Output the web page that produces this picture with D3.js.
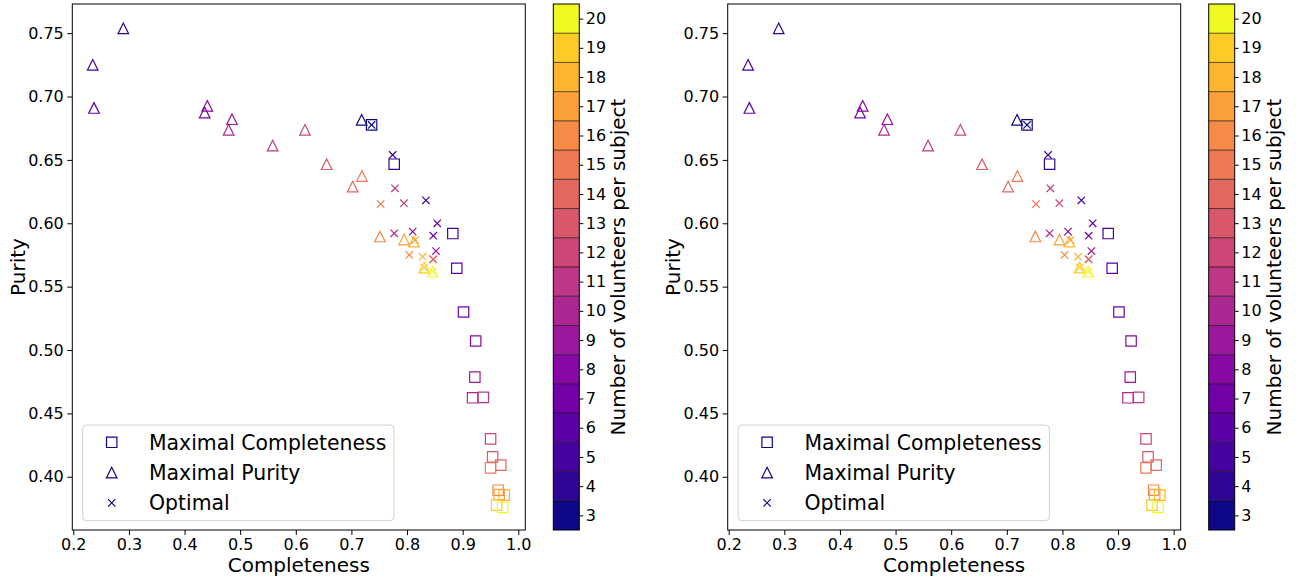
<!DOCTYPE html>
<html>
<head>
<meta charset="utf-8">
<script src="https://cdn.jsdelivr.net/npm/d3@7"></script>
<style>
  html, body { margin: 0; padding: 0; background: #fff; }
  svg { display: block; font-family: "DejaVu Sans", sans-serif; }
</style>
</head>
<body>
<svg id="chart" width="1301" height="578"></svg>
<script>
// ---------------- data ----------------
const volunteers = [3, 4, 5, 6, 7, 8, 9, 10, 11, 12, 13, 14, 15, 16, 17, 18, 19, 20];

// Maximal Completeness (squares)
const complMaxC = [0.7363, 0.7769, 0.8823, 0.8894, 0.9016, 0.9234, 0.9219, 0.9178, 0.9371, 0.9502, 0.9539, 0.9685, 0.9502, 0.9639, 0.9658, 0.9748, 0.9611, 0.9718];
const purMaxC   = [0.6776, 0.6466, 0.5919, 0.5645, 0.5300, 0.5071, 0.4786, 0.4623, 0.4626, 0.4299, 0.4157, 0.4092, 0.4070, 0.3894, 0.3860, 0.3855, 0.3776, 0.3758];

// Maximal Purity (triangles)
const complMaxP = [0.7184, 0.2899, 0.2349, 0.2372, 0.4362, 0.4409, 0.4853, 0.4793, 0.5584, 0.6165, 0.6555, 0.7023, 0.7190, 0.7513, 0.7948, 0.8125, 0.8309, 0.8460];
const purMaxP   = [0.6816, 0.7538, 0.7250, 0.6910, 0.6873, 0.6926, 0.6821, 0.6737, 0.6613, 0.6737, 0.6466, 0.6289, 0.6373, 0.5896, 0.5872, 0.5855, 0.5651, 0.5618];

// Optimal (x)
const complOpt = [0.7363, 0.7741, 0.8340, 0.8543, 0.8471, 0.8101, 0.8520, 0.7769, 0.7783, 0.7944, 0.8471, 0.8471, 0.7525, 0.8039, 0.8143, 0.8281, 0.8309, 0.8460];
const purOpt   = [0.6776, 0.6539, 0.6181, 0.6000, 0.5902, 0.5934, 0.5781, 0.5921, 0.6276, 0.6158, 0.5716, 0.5716, 0.6152, 0.5750, 0.5868, 0.5736, 0.5651, 0.5618];

const xTicks = [0.2, 0.3, 0.4, 0.5, 0.6, 0.7, 0.8, 0.9, 1.0];
const yTicks = [0.40, 0.45, 0.50, 0.55, 0.60, 0.65, 0.70, 0.75];
const cbTicks = volunteers;
const legendLabels = ["Maximal Completeness", "Maximal Purity", "Optimal"];

// ---------------- layout ----------------
const svg = d3.select("#chart");
const panelLefts = [72.3, 727.7];
const plotW = 453, plotTop = 4, plotBottom = 530;
const cbOffset = 481;   // colorbar left relative to plot left
const cbW = 26;

// discrete plasma lookup (19-colour table over 18 bins, like a boundary norm)
const nBins = volunteers.length, nLut = nBins + 1;
const color = v => {
  const i = v - volunteers[0];
  const idx = Math.floor(i * (nLut - 1) / (nBins - 1) + 1e-9);
  return d3.interpolatePlasma(idx / (nLut - 1));
};

const symSquare = d3.symbol().type({draw(ctx, s){ const h = 5.2; ctx.moveTo(-h,-h); ctx.lineTo(h,-h); ctx.lineTo(h,h); ctx.lineTo(-h,h); ctx.closePath(); }})();
const symTri = d3.symbol().type({draw(ctx, s){ const h = 5.3; ctx.moveTo(0,-h); ctx.lineTo(h,h); ctx.lineTo(-h,h); ctx.closePath(); }})();
const symX = d3.symbol().type({draw(ctx, s){ const h = 3.7; ctx.moveTo(-h,-h); ctx.lineTo(h,h); ctx.moveTo(-h,h); ctx.lineTo(h,-h); }})();
const shapes = [symSquare, symTri, symX];

function drawPanel(L) {
  const x = d3.scaleLinear().domain([0.1982, 1.0126]).range([L, L + plotW]);
  const y = d3.scaleLinear().domain([0.358, 0.773]).range([plotBottom, plotTop]);
  const g = svg.append("g");

  // axes
  const xAxis = g.append("g").attr("transform", `translate(0,${plotBottom})`)
    .call(d3.axisBottom(x).tickValues(xTicks).tickFormat(d3.format(".1f")).tickSize(5).tickPadding(3.5).tickSizeOuter(0));
  const yAxis = g.append("g").attr("transform", `translate(${L},0)`)
    .call(d3.axisLeft(y).tickValues(yTicks).tickFormat(d3.format(".2f")).tickSize(5).tickPadding(3.5).tickSizeOuter(0));
  [xAxis, yAxis].forEach(a => {
    a.select(".domain").remove();
    a.selectAll("text").attr("font-size", 16).attr("fill", "#000").attr("font-family", "DejaVu Sans");
    a.selectAll("line").attr("stroke", "#000").attr("stroke-width", 1);
  });

  // points
  const sets = [
    [complMaxC, purMaxC, symSquare],
    [complMaxP, purMaxP, symTri],
    [complOpt, purOpt, symX]
  ];
  sets.forEach(([cx, cy, sym]) => {
    g.append("g").selectAll("path").data(volunteers).join("path")
      .attr("d", sym)
      .attr("transform", (v, i) => `translate(${x(cx[i])},${y(cy[i])})`)
      .attr("fill", "none")
      .attr("stroke", v => color(v))
      .attr("stroke-width", 1.2);
  });

  // frame
  g.append("rect").attr("x", L).attr("y", plotTop).attr("width", plotW).attr("height", plotBottom - plotTop)
    .attr("fill", "none").attr("stroke", "#000").attr("stroke-width", 1);

  // axis labels
  g.append("text").attr("x", L + plotW / 2).attr("y", 571.5).attr("text-anchor", "middle")
    .attr("font-size", 20).text("Completeness");
  g.append("text").attr("transform", `translate(${L - 47.5},${(plotTop + plotBottom) / 2}) rotate(-90)`)
    .attr("text-anchor", "middle").attr("font-size", 20).text("Purity");

  // legend
  const lg = g.append("g");
  lg.append("rect").attr("x", L + 10.4).attr("y", 425).attr("width", 311.3).attr("height", 95.7)
    .attr("rx", 4).attr("fill", "#fff").attr("fill-opacity", 0.8).attr("stroke", "#d0d0d0");
  legendLabels.forEach((lab, i) => {
    const ly = 442.3 + i * 30.3;
    lg.append("path").attr("d", shapes[i]).attr("transform", `translate(${L + 39.4},${ly})`)
      .attr("fill", "none").attr("stroke", color(volunteers[0])).attr("stroke-width", 1.2);
    lg.append("text").attr("x", L + 76.7).attr("y", ly + 7.3).attr("font-size", 20.4).text(lab);
  });

  // colorbar
  const cx0 = L + cbOffset;
  const cy = d3.scaleLinear().domain([2.5, 20.5]).range([plotBottom, plotTop]);
  const cb = g.append("g");
  cb.selectAll("rect.band").data(volunteers).join("rect").attr("class", "band")
    .attr("x", cx0).attr("width", cbW)
    .attr("y", v => cy(v + 0.5)).attr("height", v => cy(v - 0.5) - cy(v + 0.5))
    .attr("fill", v => color(v));
  cb.selectAll("line.sep").data(volunteers.slice(1)).join("line").attr("class", "sep")
    .attr("x1", cx0).attr("x2", cx0 + cbW)
    .attr("y1", v => cy(v - 0.5)).attr("y2", v => cy(v - 0.5))
    .attr("stroke", "#000").attr("stroke-width", 0.8).attr("stroke-opacity", 0.8);
  cb.append("rect").attr("x", cx0).attr("y", plotTop).attr("width", cbW).attr("height", plotBottom - plotTop)
    .attr("fill", "none").attr("stroke", "#000").attr("stroke-width", 1);
  const cAxis = cb.append("g").attr("transform", `translate(${cx0 + cbW},0)`)
    .call(d3.axisRight(cy).tickValues(cbTicks).tickFormat(d3.format("d")).tickSize(4).tickPadding(2.5).tickSizeOuter(0));
  cAxis.select(".domain").remove();
  cAxis.selectAll("text").attr("font-size", 16).attr("fill", "#000").attr("font-family", "DejaVu Sans");
  cAxis.selectAll("line").attr("stroke", "#000");
  cb.append("text").attr("transform", `translate(${cx0 + 72},${(plotTop + plotBottom) / 2}) rotate(-90)`)
    .attr("text-anchor", "middle").attr("font-size", 20).text("Number of volunteers per subject");
}

panelLefts.forEach(drawPanel);
</script>
</body>
</html>
